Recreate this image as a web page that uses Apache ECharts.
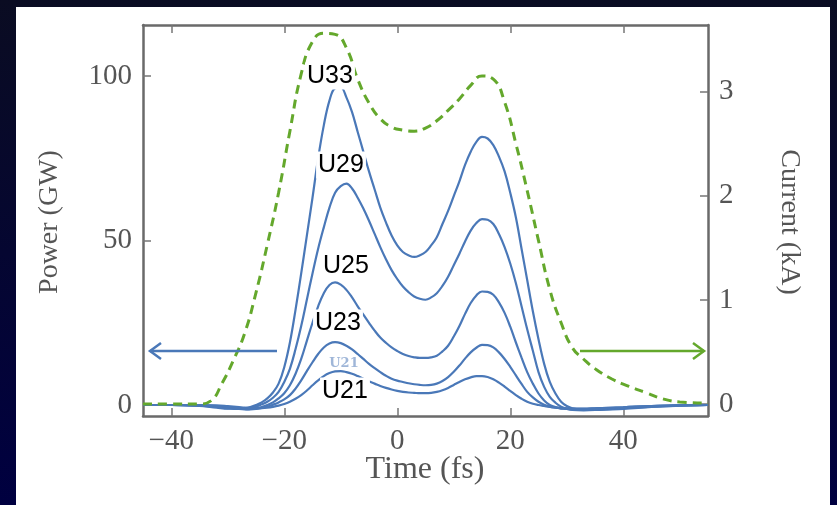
<!DOCTYPE html>
<html>
<head>
<meta charset="utf-8">
<script src="https://cdn.jsdelivr.net/npm/echarts@6/dist/echarts.min.js"></script>
<style>
  html, body { margin: 0; padding: 0; }
  body { width: 837px; height: 505px; background: linear-gradient(#0a0c22, #000040); position: relative; overflow: hidden; }
  #paper { position: absolute; left: 16px; top: 7px; width: 814px; height: 498px; background: #ffffff; }
  #chart { position: absolute; left: 0; top: 0; width: 837px; height: 505px; }
</style>
</head>
<body>
<div id="paper"></div>
<div id="chart"></div>
<script>
// ---- data ----
const timeFs = [-45,-40,-35,-32,-30,
  -28,-27,-26,-25,-24,-23,-22,-21,-20,-19,
  -18,-17,-16,-15,-14,-13,-12,-11,-10,-9,
  -8,-7,-6,-5,-4,-3,-2,-1,0,1,
  2,3,4,5,6,7,8,9,10,11,
  12,13,14,15,16,17,18,19,20,21,
  22,23,24,25,26,27,28,29,30,31,
  33,35,40,45,50,55];
const powerU33 = [0,0,-0.3,-0.8,-1.1,
  -1.1,-1,-0.6,0,0.8,2,3.8,6.5,11.5,19,
  29,40,51.5,63,75,85,92.5,96.3,96.5,93.5,
  89,83,77,71,65.5,60,55.5,51.5,48.5,46.5,
  45.5,45,45.5,46.5,48.5,51,55,59,63.5,68,
  73,77,80,81.5,81,79,75.5,71,64.5,57,
  47.5,38,28.5,20,12.5,7,3.5,1,-0.3,-1,
  -1.4,-1.5,-1.2,-0.6,-0.2,0];
const powerU29 = [0,0,-0.2,-0.6,-1.0,
  -1.2,-1.2,-0.9,-0.5,0.2,1,2.2,4,7,11,
  17,24,32,40,47.5,54,60,64.5,66.5,67.3,
  65.8,63,59.7,56,52,48,44.3,41,38.3,36,
  34.3,33,32.3,32,32.7,34,36.2,39,42.5,46,
  49.7,53,55.3,56.5,56.3,55,52,48,43,37,
  30,23,16.5,10,5.5,2.5,0.7,-0.5,-1.1,-1.5,
  -1.6,-1.5,-1,-0.5,-0.2,0];
const powerU25 = [0,0,-0.2,-0.5,-0.8,
  -1.2,-1.3,-1.2,-1,-0.6,0,0.8,2,3.6,6,
  9.5,14,19.5,25,30,34,36.5,37.3,36.6,35,
  32.7,30,27.5,25,22.6,20.5,18.9,17.5,16.4,15.5,
  14.9,14.5,14.3,14.3,14.5,15,16.3,18,20.8,24,
  27.7,31,33.3,34.5,34.4,33.5,31.2,28,23.8,19,
  14.4,10,6.5,3.5,1.4,0,-0.6,-1,-1.2,-1.3,
  -1.3,-1.2,-0.8,-0.4,-0.1,0];
const powerU23 = [0,0,-0.1,-0.3,-0.6,
  -1,-1.2,-1.3,-1.2,-0.9,-0.5,0.1,0.8,1.7,3,
  5,7.5,10.3,13,15.5,17.5,18.7,19.1,18.8,18,
  16.9,15.5,14,12.5,11.2,10,8.9,8,7.4,7,
  6.6,6.3,6.1,6,6.1,6.5,7.3,8.5,10.1,12,
  14.1,16,17.4,18.3,18.2,17.5,16,14,11.6,9,
  6.4,4,2.3,1,0.1,-0.5,-0.8,-1,-1.1,-1.2,
  -1.2,-1,-0.7,-0.3,-0.1,0];
const powerU21 = [0,0,0,-0.1,-0.35,
  -0.65,-0.8,-0.9,-1,-0.95,-0.8,-0.55,-0.2,0.3,1,
  1.9,3,4.4,6,7.5,8.8,9.7,10.2,10.3,10,
  9.5,8.8,8,7.2,6.5,5.8,5.2,4.7,4.3,4,
  3.8,3.7,3.6,3.6,3.7,4,4.5,5.2,6.1,7,
  7.8,8.4,8.8,8.8,8.5,7.8,6.8,5.6,4.3,3,
  1.9,1,0.4,0,-0.3,-0.6,-0.8,-1,-1.05,-1.1,
  -1.1,-1,-0.7,-0.3,-0.1,0];

const currentTime = [-45,-40,-35,-33,-31,-29,-27,-25,-23,-21,-19,-17,-15,-13,-11,-9,-7,-5,-3,-1,1,3,5,7,9,11,13,15,17,19,21,23,25,27,29,31,33,35,38,41,44,47,50,55];
const currentKA  = [0,0,0,0.03,0.2,0.42,0.68,1.07,1.53,2.03,2.62,3.17,3.48,3.56,3.55,3.42,3.12,2.89,2.74,2.66,2.63,2.62,2.65,2.72,2.82,2.93,3.06,3.15,3.12,2.9,2.5,2.05,1.57,1.1,0.78,0.54,0.43,0.34,0.24,0.17,0.11,0.05,0.02,0.01];

const timeTicks = [-40,-20,0,20,40];
const powerTicks = [0,50,100];
const currentTicks = [0,1,2,3];

const powerSeries = [
  { name: 'U33', values: powerU33 },
  { name: 'U29', values: powerU29 },
  { name: 'U25', values: powerU25 },
  { name: 'U23', values: powerU23 },
  { name: 'U21', values: powerU21 }
];

// ---- styling ----
const BLUE = '#4a78b8';
const GREEN = '#64a82c';
const AXIS_GREY = '#6a6a6a';
const LABEL_FONT = '"Liberation Serif", "DejaVu Serif", serif';

function axisCommon(ticks, showLabel) {
  return {
    axisLine: { show: true, onZero: false, lineStyle: { color: AXIS_GREY, width: 2.5 } },
    axisTick: { show: true, inside: true, length: 8, customValues: ticks, lineStyle: { color: '#777', width: 1.5 } },
    axisLabel: { show: showLabel, customValues: ticks, fontFamily: LABEL_FONT, fontSize: 29, color: '#555', margin: 11,
                 formatter: v => String(v).replace('-', '\u2212') },
    splitLine: { show: false }
  };
}

const chart = echarts.init(document.getElementById('chart'), null, { renderer: 'canvas' });

const series = powerSeries.map(s => ({
  name: s.name,
  type: 'line',
  xAxisIndex: 0,
  yAxisIndex: 0,
  data: timeFs.map((t, i) => [t, s.values[i]]),
  smooth: 0.4,
  symbol: 'none',
  z: 3,
  lineStyle: { color: BLUE, width: 2.2 }
}));
series.push({
  name: 'Current',
  type: 'line',
  xAxisIndex: 0,
  yAxisIndex: 1,
  data: currentTime.map((t, i) => [t, currentKA[i]]),
  smooth: 0.5,
  symbol: 'none',
  z: 4,
  lineStyle: { color: GREEN, width: 3, type: [9, 6] }
});

const titleStyle = { fontFamily: LABEL_FONT, fontSize: 28, fill: '#555', align: 'center', verticalAlign: 'middle' };
function uLabel(text, x, y) {
  return { type: 'text', x: x, y: y, z: 100,
    style: { text: text, font: '25px "Liberation Sans", Arial, sans-serif', fill: '#000', align: 'center', verticalAlign: 'middle',
             backgroundColor: '#fff', padding: [2, 2, 0, 2] } };
}

const graphics = [
  { type: 'text', x: 50, y: 222, rotation: Math.PI / 2, z: 100, style: Object.assign({ text: 'Power (GW)' }, titleStyle) },
  { type: 'text', x: 789, y: 222, rotation: -Math.PI / 2, z: 100, style: Object.assign({ text: 'Current (kA)' }, titleStyle) },
  { type: 'text', x: 425, y: 470, z: 100, style: Object.assign({ text: 'Time (fs)' }, titleStyle, { fontSize: 32 }) },
  uLabel('U33', 330, 76),
  uLabel('U29', 341, 165),
  uLabel('U25', 346, 266),
  uLabel('U23', 338, 323),
  uLabel('U21', 345, 391),
  { type: 'text', x: 344, y: 364, z: 100,
    style: { text: 'U21', font: 'bold 13px "DejaVu Serif", serif', fill: '#9fb6d8', align: 'center', verticalAlign: 'middle' } },
  // arrows
  { type: 'line', z: 90, shape: { x1: 277, y1: 351, x2: 150, y2: 351 }, style: { stroke: BLUE, lineWidth: 2.5 } },
  { type: 'polyline', z: 90, shape: { points: [[161, 343], [150, 351], [161, 359]] }, style: { stroke: BLUE, lineWidth: 2.5, fill: null } },
  { type: 'line', z: 90, shape: { x1: 580, y1: 351, x2: 704, y2: 351 }, style: { stroke: GREEN, lineWidth: 2.5 } },
  { type: 'polyline', z: 90, shape: { points: [[693, 343], [704, 351], [693, 359]] }, style: { stroke: GREEN, lineWidth: 2.5, fill: null } }
];

chart.setOption({
  animation: false,
  backgroundColor: 'transparent',
  grid: { left: 143, right: 129, top: 25, bottom: 89, containLabel: false },
  xAxis: [
    Object.assign({ type: 'value', min: -45, max: 55, position: 'bottom' }, axisCommon(timeTicks, true)),
    Object.assign({ type: 'value', min: -45, max: 55, position: 'top' }, axisCommon(timeTicks, false))
  ],
  yAxis: [
    Object.assign({ type: 'value', min: -3.34, max: 115.5, position: 'left' }, axisCommon(powerTicks, true)),
    Object.assign({ type: 'value', min: -0.115, max: 3.64, position: 'right' }, axisCommon(currentTicks, true))
  ],
  series: series,
  graphic: graphics
});
</script>
</body>
</html>
